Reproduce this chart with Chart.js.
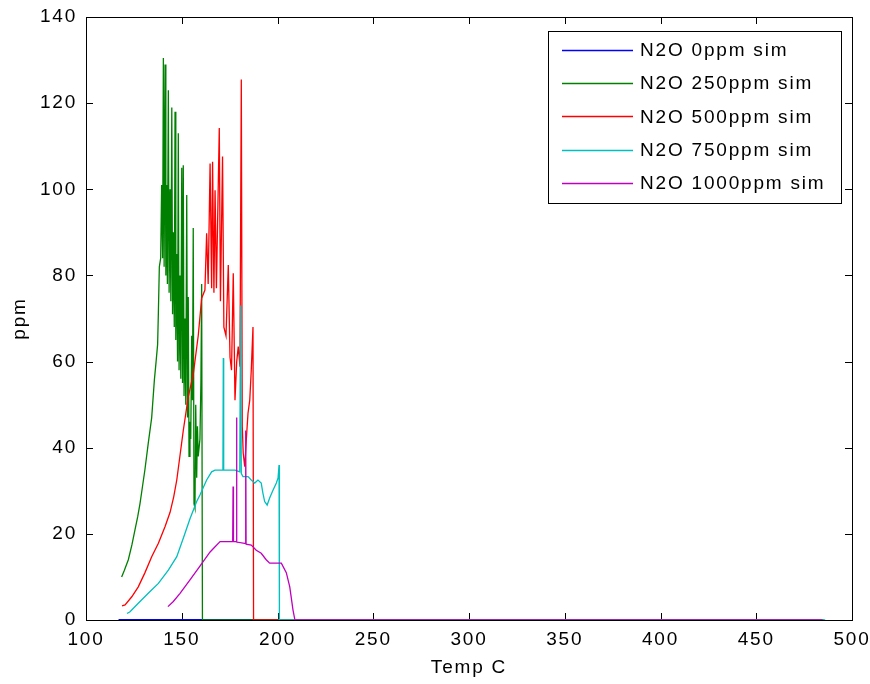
<!DOCTYPE html>
<html>
<head>
<meta charset="utf-8">
<script src="https://cdn.jsdelivr.net/npm/chart.js@4.4.1/dist/chart.umd.min.js"></script>
<style>
  html, body { margin: 0; padding: 0; background: #fff; }
  #wrap { width: 870px; height: 684px; }
</style>
</head>
<body>
<div id="wrap"><canvas id="n2o"></canvas></div>
<script>
// series labels and colours (MATLAB default order b g r c m)
const seriesNames = ['N2O 0ppm sim', 'N2O 250ppm sim', 'N2O 500ppm sim', 'N2O 750ppm sim', 'N2O 1000ppm sim'];
const seriesColors = ['#0000ff', '#008000', '#ff0000', '#00bfbf', '#bf00bf'];

// tick labels
const xTicks = [100, 150, 200, 250, 300, 350, 400, 450, 500];
const yTicks = [0, 20, 40, 60, 80, 100, 120, 140];

// 0 ppm
const temp0 = [117, 485];
const ppm0 = [0, 0];

// 250 ppm
const temp250 = [118.6, 120, 122.1, 124, 125.6, 127, 128.2, 129.5, 130.8, 132.5, 134.3, 135.7, 136.6, 137.4, 137.8, 138.3,
  139, 139.5, 140, 140.4, 140.8, 141.3, 141.7, 142.1, 142.5, 143, 143.4, 143.9, 144.3, 144.8, 145.2, 145.6, 146.1, 146.5,
  146.9, 147.4, 147.8, 148.2, 148.6, 149.1, 149.5, 150, 150.4, 150.8, 151.2, 151.7, 152.1, 152.6, 153, 153.4, 153.8,
  154.3, 154.7, 155.2, 155.6, 156, 156.4, 156.9, 157.3, 157.8, 158.2, 158.6, 159.5, 160, 160.4, 160.8, 485];
const ppm250 = [10, 11.5, 14, 17.5, 21, 24, 27, 31, 35, 41, 47, 55.7, 60, 64, 71.5, 82,
  84, 101, 84, 130.5, 82, 129, 80, 101, 78, 123, 76, 100, 74, 119, 71, 90, 68, 118,
  65, 85, 60, 113, 58, 80, 56, 105, 55, 105.6, 52, 70, 50, 98.7, 47, 75, 38,
  46, 42, 66, 51, 91, 27, 26, 50, 33, 45, 38, 42, 55, 78, 0, 0];

// 500 ppm
const temp500 = [118.8, 120.4, 123.9, 127.3, 130.8, 134.3, 137.8, 141.3, 143.9, 145.8, 147.4, 150.8, 153.4, 156, 158.6, 160.4,
  162.1, 163, 163.8, 164.8, 165.6, 166.1, 166.8, 167.4, 168.1, 169.6, 170.2, 171.3, 172, 173.1, 174.3, 175.2, 176,
  176.9, 177.8, 178.7, 179.5, 180.4, 181.1, 181.6, 182.1, 182.9, 183.7, 184.6, 185.5, 186.3, 187.2, 187.5, 485];
const ppm500 = [3.3, 3.5, 5.4, 7.7, 11, 14.7, 17.8, 21.7, 25, 28.6, 32.5, 44, 51.8, 57, 66, 74.7,
  76.6, 89.8, 78, 106, 77, 106.4, 76, 99.8, 77, 114.2, 74, 107.6, 68, 66, 82.4, 61, 58,
  80.5, 51, 60, 63.5, 58.8, 125.5, 45, 38.7, 35.6, 41.8, 48, 51, 58, 68, 0, 0];

// 750 ppm
const temp750 = [121.4, 123, 127.3, 132.5, 137.8, 143, 147.4, 150.8, 154.3, 157.8, 159.5, 163, 165.6, 167.4, 171.5,
  171.7, 171.9, 177.8, 180.3, 180.7, 181.1, 182, 184.6, 186.3, 188.1, 189.8, 191.5, 192.4, 193.3, 194.6, 195.9,
  197.7, 199.4, 200.3, 200.8, 201, 486];
const ppm750 = [1.5, 1.9, 3.9, 6.2, 8.5, 11.6, 14.7, 19, 23.5, 27.5, 29, 32.5, 34.4, 34.8, 34.8,
  60.8, 34.8, 34.8, 34.4, 73, 34, 33.3, 33.3, 32.5, 31.8, 32.5, 31.8, 29.4, 27.5, 26.7, 28.3,
  30.2, 31.8, 33, 36, 0, 0];

// 1000 ppm
const temp1000 = [142.8, 145.6, 149.1, 154.3, 159.5, 164.8, 167.4, 170, 176.6, 176.8, 177, 178.4, 178.6, 178.8,
  182.8, 183.2, 183.4, 183.6, 186.3, 188.9, 191.5, 194.1, 195.9, 197.7, 202, 204.6, 206.4, 208.1, 209.1, 484.5];
const ppm1000 = [3.1, 4.3, 6.2, 9.3, 12.5, 15.8, 17, 18.2, 18.2, 31, 18.2, 18.2, 47, 18.1,
  17.8, 17.8, 44, 17.6, 17.4, 16.2, 15.5, 14, 13.2, 13.2, 13.2, 11, 7.7, 2.3, 0, 0];

const temps = [temp0, temp250, temp500, temp750, temp1000];
const ppms = [ppm0, ppm250, ppm500, ppm750, ppm1000];

const FONT = '"Liberation Sans", Arial, sans-serif';
const FSIZE = 19;
const SPACING = '1.8px';

const datasets = seriesNames.map((name, i) => ({
  label: name,
  data: temps[i].map((t, k) => ({ x: t, y: ppms[i][k] })),
  borderColor: seriesColors[i],
  backgroundColor: seriesColors[i],
  borderWidth: i === 0 ? 2 : 1.3,
  pointRadius: 0,
  tension: 0,
  fill: false,
  order: seriesNames.length - i  // later series drawn on top, like MATLAB
}));

// white page, box and inward ticks on all four sides (under the lines)
const matlabAxes = {
  id: 'matlabAxes',
  beforeDraw(chart) {
    const c = chart.ctx;
    c.save();
    c.fillStyle = '#fff';
    c.fillRect(0, 0, chart.width, chart.height);
    c.restore();
    c.letterSpacing = SPACING;
  },
  beforeDatasetsDraw(chart) {
    const c = chart.ctx;
    const a = chart.chartArea;
    const xs = chart.scales.x, ys = chart.scales.y;
    c.save();
    c.strokeStyle = '#000';
    c.lineWidth = 1;
    c.beginPath();
    xTicks.forEach(v => {
      const px = Math.round(xs.getPixelForValue(v)) + 0.5;
      c.moveTo(px, a.bottom); c.lineTo(px, a.bottom - 7);
      c.moveTo(px, a.top); c.lineTo(px, a.top + 7);
    });
    yTicks.forEach(v => {
      const py = Math.round(ys.getPixelForValue(v)) + 0.5;
      c.moveTo(a.left, py); c.lineTo(a.left + 7, py);
      c.moveTo(a.right, py); c.lineTo(a.right - 7, py);
    });
    c.stroke();
    c.strokeRect(Math.round(a.left) + 0.5, Math.round(a.top) + 0.5,
      Math.round(a.right - a.left), Math.round(a.bottom - a.top));
    c.restore();
  }
};

// MATLAB style legend box in the top right corner
const boxLegend = {
  id: 'boxLegend',
  afterDraw(chart) {
    const c = chart.ctx;
    const left = 548, top = 31, w = 293, h = 172;
    c.save();
    c.fillStyle = '#fff';
    c.fillRect(left, top, w, h);
    c.strokeStyle = '#000';
    c.lineWidth = 1;
    c.strokeRect(left + 0.5, top + 0.5, w, h);
    c.font = FSIZE + 'px ' + FONT;
    c.letterSpacing = SPACING;
    c.textBaseline = 'middle';
    seriesNames.forEach((name, i) => {
      const y = 50 + i * 33.2;
      c.strokeStyle = seriesColors[i];
      c.lineWidth = 1.3;
      c.beginPath();
      c.moveTo(562, Math.round(y) + 0.5);
      c.lineTo(633, Math.round(y) + 0.5);
      c.stroke();
      c.fillStyle = '#000';
      c.fillText(name, 640, y + 1);
    });
    c.restore();
  }
};

new Chart(document.getElementById('n2o'), {
  type: 'line',
  data: { datasets },
  options: {
    responsive: true,
    maintainAspectRatio: false,
    animation: false,
    events: [],
    layout: { padding: { top: 17, right: 18, left: 0, bottom: 0 } },
    plugins: { legend: { display: false }, tooltip: { enabled: false } },
    scales: {
      x: {
        type: 'linear',
        min: 100, max: 500,
        afterFit(s) { s.height = 64; s.paddingLeft = 0; s.paddingRight = 0; },
        afterBuildTicks(s) { s.ticks = xTicks.map(v => ({ value: v })); },
        grid: { display: false, drawTicks: false },
        border: { display: false },
        ticks: { color: '#000', padding: 8, maxRotation: 0, autoSkip: false, font: { family: FONT, size: FSIZE } },
        title: { display: true, text: 'Temp C', color: '#000', padding: { top: 4, bottom: 5 }, font: { family: FONT, size: FSIZE } }
      },
      y: {
        min: 0, max: 140,
        afterFit(s) { s.width = 86; s.paddingTop = 0; s.paddingBottom = 0; },
        afterBuildTicks(s) { s.ticks = yTicks.map(v => ({ value: v })); },
        grid: { display: false, drawTicks: false },
        border: { display: false },
        ticks: { color: '#000', padding: 9, autoSkip: false, font: { family: FONT, size: FSIZE } },
        title: { display: true, text: 'ppm', color: '#000', padding: { top: 8, bottom: 0 }, font: { family: FONT, size: FSIZE } }
      }
    }
  },
  plugins: [matlabAxes, boxLegend]
});
</script>
</body>
</html>
